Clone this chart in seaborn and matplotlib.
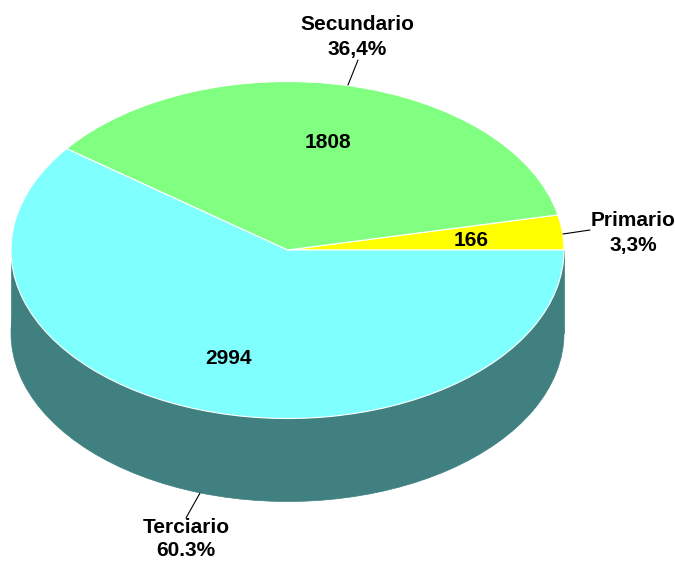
import matplotlib
matplotlib.use("Agg")
import matplotlib.pyplot as plt
from matplotlib.patches import Rectangle
import seaborn as sns

# Datos del grafico
sectores = ["Primario", "Secundario", "Terciario"]
valores = [166, 1808, 2994]
porcentajes = ["3,3%", "36,4%", "60.3%"]
colores = ["#FFFF00", "#80FF80", "#80FFFF"]
color_lado = "#408080"

sns.set_theme(style="white")
plt.rcParams["font.family"] = ["Liberation Sans", "DejaVu Sans"]

ANCHO, ALTO = 675, 562
CX, CY, RX, RY, PROF = 287.5, 250, 276.5, 168.5, 83


# Pasa de pixeles de la imagen a coordenadas del pastel
def px(x, y):
    return (x - CX) / RX, (CY - y) / RY


fig, ax = plt.subplots(figsize=(ANCHO / 100, ALTO / 100), dpi=100)
fig.subplots_adjust(0, 0, 1, 1)

# Lado del cilindro: un pastel oscuro desplazado y un rectangulo hasta el de arriba
prof = PROF / RY
ax.pie(
    valores,
    colors=[color_lado] * 3,
    center=(0, -prof),
    radius=1,
    startangle=0,
    wedgeprops={"edgecolor": color_lado, "linewidth": 0.5},
)
ax.add_patch(Rectangle((-1, -prof), 2, prof, facecolor=color_lado, edgecolor=color_lado, lw=0.5))

# Cara superior
ax.pie(
    valores,
    colors=colores,
    startangle=0,
    wedgeprops={"edgecolor": "white", "linewidth": 0.8},
)

ax.set_aspect("auto")
ax.set_xlim(px(0, 0)[0], px(ANCHO, 0)[0])
ax.set_ylim(px(0, ALTO)[1], px(0, 0)[1])
ax.axis("off")

estilo = dict(ha="center", va="center", fontsize=15, fontweight="bold", color="black")

# Valores dentro de cada sector
pos_valores = [(471, 240), (328, 142), (229, 359)]
for v, (x, y) in zip(valores, pos_valores):
    ax.text(*px(x, y), str(v), **estilo)

# Etiquetas de fuera (la de abajo un poco mas junta para que quepa)
pos_etiquetas = [(633, 233), (357, 37), (186, 539)]
interlineado = [1.4, 1.4, 1.3]
for s, p, (x, y), il in zip(sectores, porcentajes, pos_etiquetas, interlineado):
    ax.text(*px(x, y), f"{s}\n{p}", linespacing=il, **estilo)

# Lineas guia
guias = [((563, 234), (590, 230)), ((348, 85), (358, 60)), ((200, 493), (186, 518))]
for a, b in guias:
    xa, ya = px(*a)
    xb, yb = px(*b)
    ax.plot([xa, xb], [ya, yb], color="black", lw=0.8)

fig.savefig("out.png", dpi=100)
